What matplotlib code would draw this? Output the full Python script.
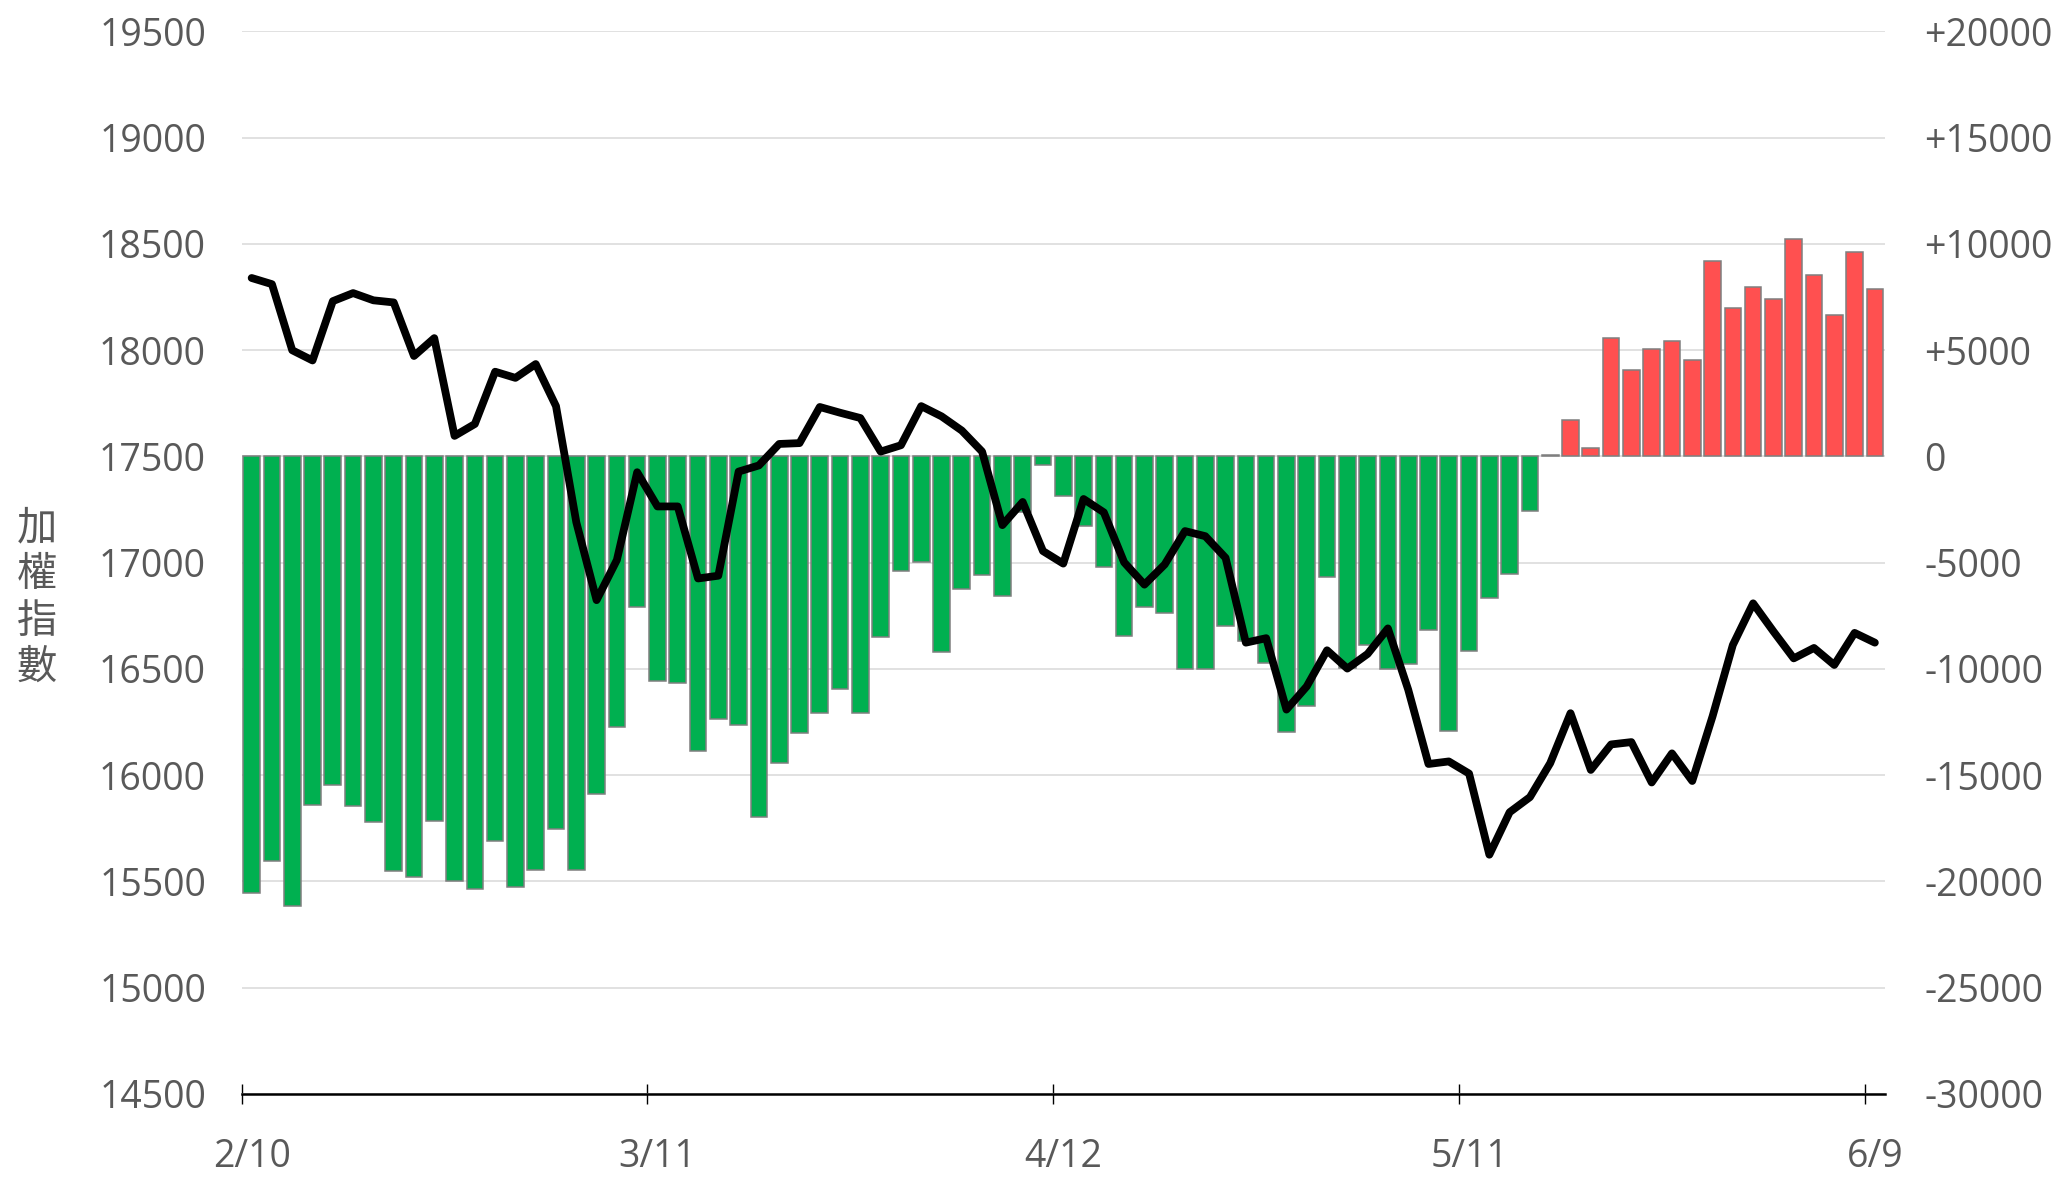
import matplotlib
matplotlib.use("Agg")
import matplotlib.pyplot as plt
import numpy as np

# TAIEX close (left axis) and net position (right axis), 2/10 .. 6/9
index_close = [
    18340, 18311, 18000, 17952, 18231, 18269, 18235, 18225, 17973, 18057,
    17597, 17653, 17899, 17870, 17935, 17737, 17191, 16824, 17013, 17426,
    17265, 17265, 16926, 16939, 17429, 17458, 17559, 17563, 17733, 17706,
    17681, 17523, 17553, 17737, 17689, 17622, 17523, 17177, 17286, 17055,
    16996, 17300, 17237, 17002, 16897, 16992, 17149, 17125, 17023, 16624,
    16645, 16309, 16418, 16588, 16502, 16571, 16691, 16403, 16053, 16065,
    16008, 15626, 15826, 15897, 16057, 16292, 16025, 16145, 16156, 15966,
    16103, 15973, 16277, 16613, 16809, 16677, 16550, 16599, 16519, 16670,
    16624,
]
net_position = [
    -20560, -19050, -21150, -16400, -15440, -16460, -17220, -19510, -19780, -17140,
    -19970, -20370, -18100, -20240, -19470, -17510, -19470, -15860, -12710, -7080,
    -10560, -10670, -13840, -12330, -12620, -16970, -14410, -13020, -12080, -10940,
    -12080, -8480, -5380, -4980, -9220, -6240, -5590, -6570, -2600, -420,
    -1870, -3280, -5190, -8440, -7080, -7370, -9980, -10020, -7980, -8690,
    -9720, -12960, -11740, -5670, -9950, -8860, -9980, -9770, -8170, -12900,
    -9140, -6660, -5540, -2560, 80, 1700, 400, 5590, 4050, 5040,
    5420, 4540, 9200, 6990, 7980, 7430, 10250, 8530, 6640, 9600,
    7900,
]
tick_idx = [0, 20, 40, 60, 80]
tick_labels = ["2/10", "3/11", "4/12", "5/11", "6/9"]
left_ticks = list(range(14500, 20000, 500))
right_ticks = list(range(-30000, 25000, 5000))

plt.rcParams["font.family"] = ["Open Sans", "DejaVu Sans"]
gray = "#595959"

fig = plt.figure(figsize=(20.61, 11.78), dpi=100)
ax = fig.add_axes([0.11718, 0.07131, 0.79743, 0.90195])
ax_line = ax.twinx()

x = np.arange(len(net_position))
colors = ["#FF5050" if v >= 0 else "#00B050" for v in net_position]
ax.bar(x, net_position, width=0.82, color=colors, edgecolor="#7F7F7F",
       linewidth=1.1, zorder=2)
ax.set_ylim(-30000, 20000)
ax.set_xlim(-0.5, len(x) - 0.5)
ax.set_yticks(right_ticks)
ax.set_yticklabels([("+%d" % v) if v > 0 else "%d" % v for v in right_ticks])
ax.yaxis.tick_right()
ax.tick_params(axis="y", length=0, pad=28.5, labelsize=27, labelcolor=gray)
ax.grid(axis="y", color="#D9D9D9", linewidth=1.1)
ax.set_axisbelow(True)

ax_line.plot(x, index_close, color="black", linewidth=5.6,
             solid_joinstyle="round", solid_capstyle="round", zorder=3)
ax_line.set_ylim(14500, 19500)
ax_line.set_yticks(left_ticks)
ax_line.set_yticklabels([str(v) for v in left_ticks])
ax_line.yaxis.tick_left()
ax_line.tick_params(axis="y", length=0, pad=25.5, labelsize=27, labelcolor=gray)

for a in (ax, ax_line):
    for s in a.spines.values():
        s.set_visible(False)
ax.spines["bottom"].set_visible(True)
ax.spines["bottom"].set_color("black")
ax.spines["bottom"].set_linewidth(1.8)

# tick marks on category boundaries, labels on category centres
ax.set_xticks([i - 0.5 for i in tick_idx])
ax.set_xticklabels([])
ax.set_xticks(tick_idx, minor=True)
ax.set_xticklabels(tick_labels, minor=True)
ax.tick_params(axis="x", which="major", direction="inout", length=15, width=1,
               color="black")
ax.tick_params(axis="x", which="minor", length=0, pad=32, labelsize=27,
               labelcolor=gray)

fig.text(0.018, 0.4924, "加\n權\n指\n數", family=["Noto Sans CJK TC", "DejaVu Sans"],
         fontsize=29, color=gray, ha="center", va="center", linespacing=1.17)

fig.savefig("out.png", dpi=100)
